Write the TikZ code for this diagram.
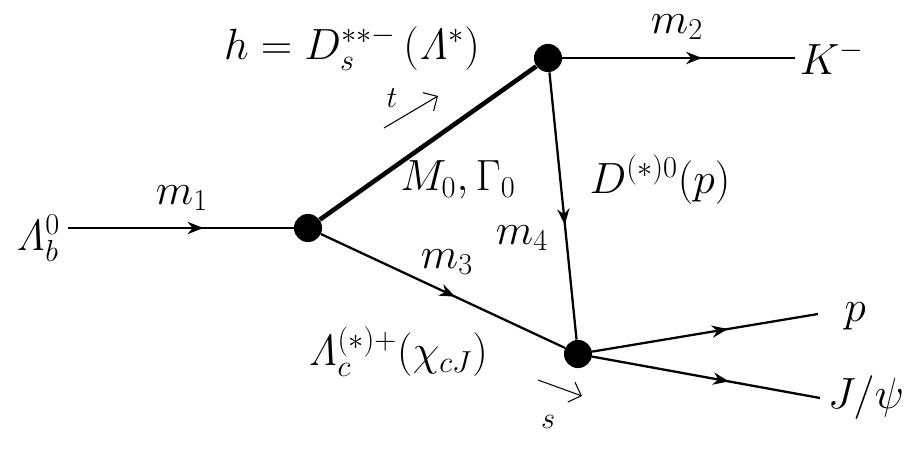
\documentclass[tikz,border=0pt]{standalone}
\usetikzlibrary{decorations.markings,arrows.meta}
\begin{document}
\begin{tikzpicture}[x=0.02cm,y=-0.02cm,
  lbl/.style={font=\fontsize{24}{28}\selectfont},
  sml/.style={font=\fontsize{17}{20}\selectfont},
  prop/.style={line width=1.3pt},
  thick prop/.style={line width=2.6pt},
  midarrow/.style={postaction={decorate},decoration={markings,mark=at position #1 with {\arrow{Stealth[length=9pt,width=7pt]}}}},
  vtx/.style={circle,fill=black,inner sep=0pt,minimum size=16pt}]
\useasboundingbox (0,0) rectangle (913,456);
\node[vtx] (A) at (308,228) {};
\node[vtx] (B) at (548,58) {};
\node[vtx] (C) at (578,354) {};
\coordinate (L) at (68,228);
\coordinate (K) at (795,58);
\coordinate (P) at (818,314);
\coordinate (J) at (820,398);
\draw[prop,midarrow=0.6] (L) -- (A);
\draw[thick prop] (A) -- (B);
\draw[prop,midarrow=0.6] (B) -- (K);
\draw[prop,midarrow=0.57] (B) -- (C);
\draw[prop,midarrow=0.55] (A) -- (C);
\draw[prop,midarrow=0.6] (C) -- (P);
\draw[prop,midarrow=0.6] (C) -- (J);
\coordinate (t1) at (384,128); \coordinate (t2) at (438,96);
\draw[line width=0.6pt,-{Straight Barb[length=6pt]}] (t1) -- (t2);
\coordinate (s1) at (538,380); \coordinate (s2) at (582,396);
\draw[line width=0.6pt,-{Straight Barb[length=6pt]}] (s1) -- (s2);
\node[lbl] (lb) at (38,238) {$\mathit{\Lambda}_b^0$};
\node[lbl] (m1) at (182,198) {$m_1$};
\node[lbl] (h) at (352,48) {$h=D_s^{**-}\,(\mathit{\Lambda}^*)$};
\node[sml] (t) at (392,98) {$t$};
\node[lbl] (m2) at (677,27) {$m_2$};
\node[lbl] (km) at (832,58) {$K^-$};
\node[lbl] (MG) at (458,180) {$M_0,\Gamma_0$};
\node[lbl] (D) at (660,180) {$D^{(*)0}(p)$};
\node[lbl] (m4) at (522,238) {$m_4$};
\node[lbl] (m3) at (447,262) {$m_3$};
\node[lbl] (lc) at (398,352) {$\mathit{\Lambda}_c^{(*)+}(\chi_{cJ})$};
\node[sml] (s) at (548,422) {$s$};
\node[lbl] (p) at (855,316) {$p$};
\node[lbl] (jp) at (866,398) {$J/\psi$};
\end{tikzpicture}
\end{document}
